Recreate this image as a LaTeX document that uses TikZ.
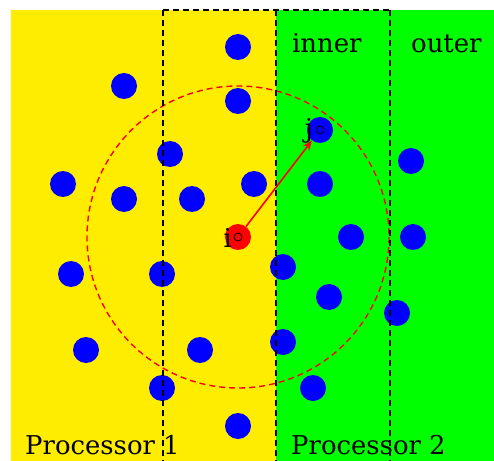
\documentclass[tikz,border=0pt]{standalone}
\usepackage{fontspec}
\setmainfont{DejaVu Serif}
\usetikzlibrary{arrows.meta}
\definecolor{procone}{RGB}{255,237,0}
\definecolor{proctwo}{RGB}{0,255,0}
\tikzset{
  particle/.style={circle,fill=blue,minimum size=26bp,inner sep=0pt},
  marker/.style={circle,draw=black,line width=0.8bp,minimum size=8bp,inner sep=0pt},
  border/.style={line width=2bp,dash pattern=on 6bp off 4bp},
  lbl/.style={inner sep=0pt,font=\fontsize{26}{30}\selectfont}
}
\begin{document}
\begin{tikzpicture}[x=1bp,y=-1bp]
		%%%%% START %%%%%
		\useasboundingbox (0,0) rectangle (494,461);
		
		\fill[procone] (11,10) rectangle (276,461);
		\fill[proctwo] (276,10) rectangle (494,461);
		
		% particles
		\foreach \n/\px/\py in {a/238/47, b/124/86, c/238/101, d/170/154, e/411/161,
		    f/63/184, g/124/199, h/192/199, k/254/184, l/320/184, m/351/237, n/413/237,
		    o/71/274, p/162/274, q/283/267, r/329/297, s/397/313, t/86/350, u/200/350,
		    v/283/342, w/162/388, x/313/388, y/238/426}
		  \node[particle] (\n) at (\px,\py) {};
		\node[particle] (pj) at (320,130) {};
		\node[particle,fill=red] (pi) at (238,237) {};
		
		% cutoff radius
		\draw[red,line width=1.4bp,dash pattern=on 6bp off 4bp] (pi.center) circle (151);
		
		% processor borders
		\draw[border] (163,10) -- (163,461);
		\draw[border] (276,10) -- (276,461);
		\draw[border] (390,10) -- (390,461);
		\draw[border] (163,10) -- (390,10);
		
		\draw[red,line width=1.6bp,-{Stealth[length=10bp,width=8bp]}] (pi) -- (pj);
		\node[marker] (mi) at (pi.center) {};
		\node[marker] (mj) at (pj.center) {};
		\node[lbl,anchor=east] (ilab) at (232,238) {i};
		\node[lbl,anchor=east] (jlab) at (313,131) {j};
		
		\node[lbl,anchor=base west] (inner) at (292,53) {inner};
		\node[lbl,anchor=base west] (outer) at (411,53) {outer};
		\node[lbl,anchor=base west] (pone) at (25,454) {Processor 1};
		\node[lbl,anchor=base west] (ptwo) at (291,454) {Processor 2};
		%%%%% END %%%%%
\end{tikzpicture}
\end{document}
